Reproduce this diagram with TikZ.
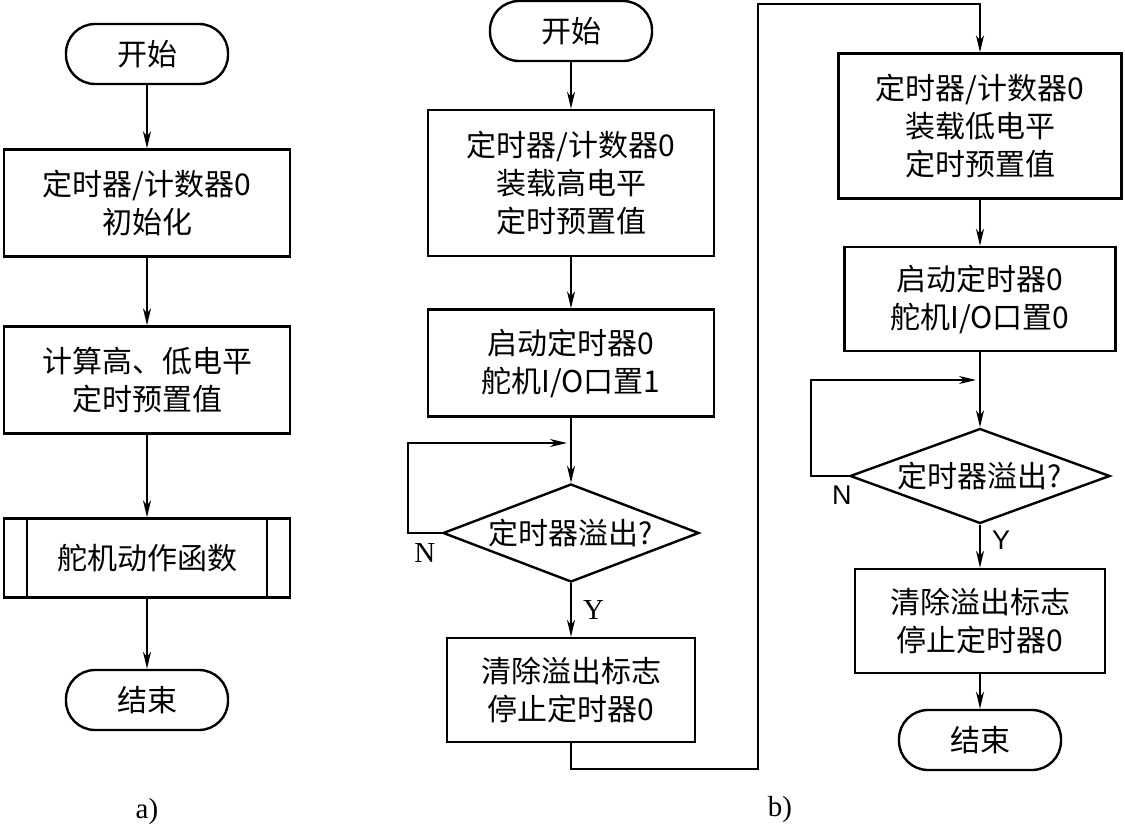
\documentclass[tikz,border=0pt]{standalone}
\usepackage{fontspec}
\setmainfont{Liberation Serif}
\newfontfamily\zhfont{Noto Sans CJK SC}
\newfontfamily\ynfont{Liberation Sans}
\usetikzlibrary{shapes,arrows.meta,positioning,calc}
\tikzset{
term/.style = {draw, line width=2.4pt, rectangle, rounded corners=29pt, minimum width=162pt, minimum height=60pt, font=\zhfont\fontsize{30}{38}\selectfont},
block/.style = {draw, line width=2.4pt, rectangle, align=center, font=\zhfont\fontsize{30}{38}\selectfont},
decide/.style = {draw, line width=2.4pt, diamond, aspect=2.6, inner sep=0pt, minimum width=256pt, minimum height=98pt, font=\zhfont\fontsize{30}{38}\selectfont},
tmp/.style = {coordinate},
tag/.style = {font=\fontsize{29}{30}\selectfont},
yn/.style = {font=\fontsize{29}{30}\selectfont},
ynsans/.style = {font=\ynfont\fontsize{27}{30}\selectfont}
}

\begin{document}
\begin{tikzpicture}[x=1pt, y=-1pt, line width=1.6pt, >={Stealth[length=17pt,width=8pt,inset=5pt]}]
    \useasboundingbox (0,0) rectangle (1125,830);
    % a)
    \node [term] (starta) at (147,54) {开始};
    \node [block, below of=starta, node distance=149pt, minimum width=286pt, minimum height=107pt] (inita) {定时器/计数器0\\初始化};
    \node [block, below of=inita, node distance=177pt, minimum width=286pt, minimum height=107pt] (calca) {计算高、低电平\\定时预置值};
    \node [block, below of=calca, node distance=178pt, minimum width=286pt, minimum height=79pt] (funca) {舵机动作函数};
    \node [term, below of=funca, node distance=142pt] (enda) {结束};
    \node [tag] (capa) at (147,812) {a)};
    \draw [line width=2.4pt] ([xshift=24pt]funca.north west) -- ([xshift=24pt]funca.south west);
    \draw [line width=2.4pt] ([xshift=-24pt]funca.north east) -- ([xshift=-24pt]funca.south east);
    \draw [->] (starta) -- (inita);
    \draw [->] (inita) -- (calca);
    \draw [->] (calca) -- (funca);
    \draw [->] (funca) -- (enda);
    % b) high level
    \node [term] (startb) at (571,31) {开始};
    \node [block, below of=startb, node distance=152pt, minimum width=286pt, minimum height=146pt] (loadh) {定时器/计数器0\\装载高电平\\定时预置值};
    \node [block, below of=loadh, node distance=180pt, minimum width=286pt, minimum height=107pt] (runh) {启动定时器0\\舵机I/O口置1};
    \node [decide, below of=runh, node distance=170pt] (ovfh) {定时器溢出?};
    \node [block, below of=ovfh, node distance=157pt, minimum width=248pt, minimum height=104pt] (clrh) {清除溢出标志\\停止定时器0};
    \node [tmp] (looph) at (408,533) {};
    \node [tmp] (joinh) at (571,443) {};
    \node [tmp] (downb) at (758,769) {};
    \node [tmp] (upb) at (758,4) {};
    \draw [->] (startb) -- (loadh);
    \draw [->] (loadh) -- (runh);
    \draw [->] (runh) -- (ovfh);
    \draw [->, shorten >=4pt] (ovfh.west) -- node[yn, below=6pt]{N} (looph) |- (joinh);
    \draw [->] (ovfh) -- node[yn, right=8pt]{Y} (clrh);
    % b) low level
    \node [block, minimum width=283pt, minimum height=145pt] (loadl) at (980,126) {定时器/计数器0\\装载低电平\\定时预置值};
    \node [block, below of=loadl, node distance=173pt, minimum width=271pt, minimum height=104pt] (runl) {启动定时器0\\舵机I/O口置0};
    \node [decide, below of=runl, node distance=177pt, minimum width=260pt, minimum height=95pt] (ovfl) {定时器溢出?};
    \node [block, below of=ovfl, node distance=145pt, minimum width=250pt, minimum height=104pt] (clrl) {清除溢出标志\\停止定时器0};
    \node [term, below of=clrl, node distance=119pt] (endb) {结束};
    \node [tag] (capb) at (780,810) {b)};
    \node [tmp] (loopl) at (811,476) {};
    \node [tmp] (joinl) at (980,380) {};
    \draw [->] (clrh.south) |- (downb) -- (upb) -| (loadl.north);
    \draw [->] (loadl) -- (runl);
    \draw [->] (runl) -- (ovfl);
    \draw [->, shorten >=4pt] (ovfl.west) -- node[ynsans, below=6pt, xshift=12pt]{N} (loopl) |- (joinl);
    \draw [->] (ovfl) -- node[ynsans, right=8pt, yshift=6pt]{Y} (clrl);
    \draw [->] (clrl) -- (endb);
\end{tikzpicture}
\end{document}
